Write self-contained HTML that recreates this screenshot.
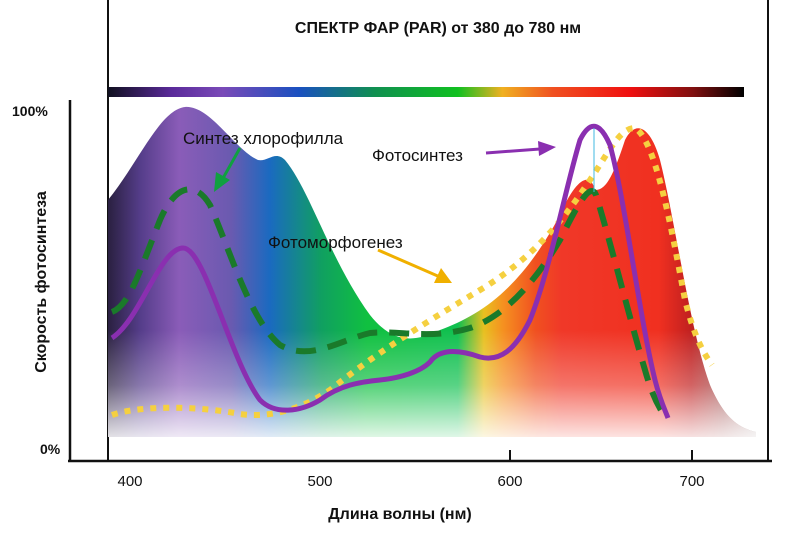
<!DOCTYPE html>
<html><head><meta charset="utf-8"><style>
html,body{margin:0;padding:0;background:#fff}
svg{display:block;font-family:"Liberation Sans","Noto Sans CJK JP",sans-serif}
</style></head><body>
<svg width="800" height="533" viewBox="0 0 800 533">
<defs>
<linearGradient id="bar" x1="108" x2="744" gradientUnits="userSpaceOnUse">
<stop offset="0" stop-color="#101020"/><stop offset="0.1" stop-color="#5a2a9a"/><stop offset="0.18" stop-color="#7a4ab8"/>
<stop offset="0.3" stop-color="#1a50c0"/><stop offset="0.42" stop-color="#109050"/><stop offset="0.55" stop-color="#10c020"/>
<stop offset="0.62" stop-color="#f0b020"/><stop offset="0.7" stop-color="#f05020"/><stop offset="0.82" stop-color="#f01010"/>
<stop offset="0.92" stop-color="#801010"/><stop offset="1" stop-color="#000"/>
</linearGradient>
<linearGradient id="fill" x1="108" x2="756" gradientUnits="userSpaceOnUse">
<stop offset="0" stop-color="#2a2040"/><stop offset="0.05" stop-color="#553d8a"/><stop offset="0.11" stop-color="#8a5cb8"/>
<stop offset="0.19" stop-color="#6a5ab0"/><stop offset="0.25" stop-color="#1a6ac0"/><stop offset="0.33" stop-color="#10a060"/>
<stop offset="0.4" stop-color="#10c040"/><stop offset="0.54" stop-color="#10c050"/><stop offset="0.58" stop-color="#e8c020"/>
<stop offset="0.61" stop-color="#f59020"/><stop offset="0.66" stop-color="#f05020"/><stop offset="0.7" stop-color="#f03828"/>
<stop offset="0.85" stop-color="#f03020"/><stop offset="0.9" stop-color="#c02020"/><stop offset="0.95" stop-color="#a05050"/>
<stop offset="1" stop-color="#b8a8a8"/>
</linearGradient>
<linearGradient id="fade" x1="0" x2="0" y1="330" y2="440" gradientUnits="userSpaceOnUse">
<stop offset="0" stop-color="#fff" stop-opacity="0"/><stop offset="0.5" stop-color="#fff" stop-opacity="0.3"/><stop offset="1" stop-color="#fff" stop-opacity="0.9"/>
</linearGradient>
</defs>
<line x1="108" y1="0" x2="108" y2="460" stroke="#111" stroke-width="2"/>
<line x1="768" y1="0" x2="768" y2="462" stroke="#111" stroke-width="2"/>
<line x1="70" y1="100" x2="70" y2="461" stroke="#111" stroke-width="2.5"/>
<line x1="68" y1="461" x2="772" y2="461" stroke="#111" stroke-width="2.5"/>
<line x1="510" y1="450" x2="510" y2="461" stroke="#111" stroke-width="2"/>
<line x1="692" y1="450" x2="692" y2="461" stroke="#111" stroke-width="2"/>
<text x="438" y="33" font-size="16" font-weight="bold" text-anchor="middle" fill="#111">СПЕКТР ФАР (PAR) от 380 до 780 нм</text>
<rect x="108" y="87" width="636" height="10" fill="url(#bar)"/>
<path d="M108,200 C140,160 160,110 185,107 C210,105 235,150 258,160 C268,162 275,150 285,160 C310,190 330,260 370,315 C390,340 410,345 440,330 C480,315 520,290 560,215 C575,180 590,170 595,190 C605,190 612,180 625,140 C635,120 650,125 660,160 C675,220 690,330 710,385 C725,420 740,428 756,432 L756,437 L108,437 Z" fill="url(#fill)"/>
<path d="M108,200 C140,160 160,110 185,107 C210,105 235,150 258,160 C268,162 275,150 285,160 C310,190 330,260 370,315 C390,340 410,345 440,330 C480,315 520,290 560,215 C575,180 590,170 595,190 C605,190 612,180 625,140 C635,120 650,125 660,160 C675,220 690,330 710,385 C725,420 740,428 756,432 L756,437 L108,437 Z" fill="url(#fade)"/>
<path d="M112,415 C140,405 200,406 240,414 C270,418 300,410 330,390 C380,350 430,320 480,290 C530,260 560,225 590,180 C610,150 620,128 635,128 C655,140 670,220 685,300 C695,340 705,355 712,365" fill="none" stroke="#f5d040" stroke-width="6" stroke-dasharray="6 7"/>
<path d="M112,312 C130,305 140,270 160,220 C175,185 195,180 210,205 C230,250 250,320 280,345 C310,362 340,340 370,333 C400,330 430,340 470,328 C500,318 530,290 560,240 C575,210 590,180 596,195 C610,240 630,320 645,370 C652,395 658,405 662,412" fill="none" stroke="#1a7a2a" stroke-width="6" stroke-dasharray="20 12"/>
<path d="M112,338 C140,320 160,248 183,248 C205,248 230,360 260,400 C275,415 300,412 320,400 C340,385 360,382 380,380 C400,378 420,372 430,362 C440,348 460,350 480,357 C500,362 515,350 530,320 C550,270 565,190 580,140 C590,120 600,122 610,145 C625,200 640,320 655,380 C660,400 665,410 668,418" fill="none" stroke="#8a2fb0" stroke-width="5"/>
<line x1="594" y1="128" x2="594" y2="192" stroke="#40b8e0" stroke-width="1"/>
<g stroke-width="3" fill="none">
<line x1="240" y1="148" x2="222" y2="180" stroke="#10a040"/>
<line x1="486" y1="153" x2="540" y2="149" stroke="#8a2fb0"/>
<line x1="378" y1="250" x2="440" y2="277" stroke="#f0b000"/>
</g>
<polygon points="214,192 216,172 230,180" fill="#10a040"/>
<polygon points="556,147 538,141 539,156" fill="#8a2fb0"/>
<polygon points="452,283 434,283 441,268" fill="#f0b000"/>
<text x="183" y="144" font-size="17" fill="#111">Синтез хлорофилла</text>
<text x="372" y="161" font-size="17" fill="#111">Фотосинтез</text>
<text x="268" y="248" font-size="17" fill="#111">Фотоморфогенез</text>
<text x="12" y="116" font-size="14" font-weight="bold" fill="#111">100%</text>
<text x="40" y="454" font-size="14" font-weight="bold" fill="#111">0%</text>
<text transform="translate(46,282) rotate(-90)" font-size="16" font-weight="bold" text-anchor="middle" fill="#111">Скорость фотосинтеза</text>
<g font-size="15" fill="#111" text-anchor="middle">
<text x="130" y="486">400</text><text x="320" y="486">500</text><text x="510" y="486">600</text><text x="692" y="486">700</text>
</g>
<text x="400" y="519" font-size="16" font-weight="bold" text-anchor="middle" fill="#111">Длина волны (нм)</text>
</svg>
</body></html>
